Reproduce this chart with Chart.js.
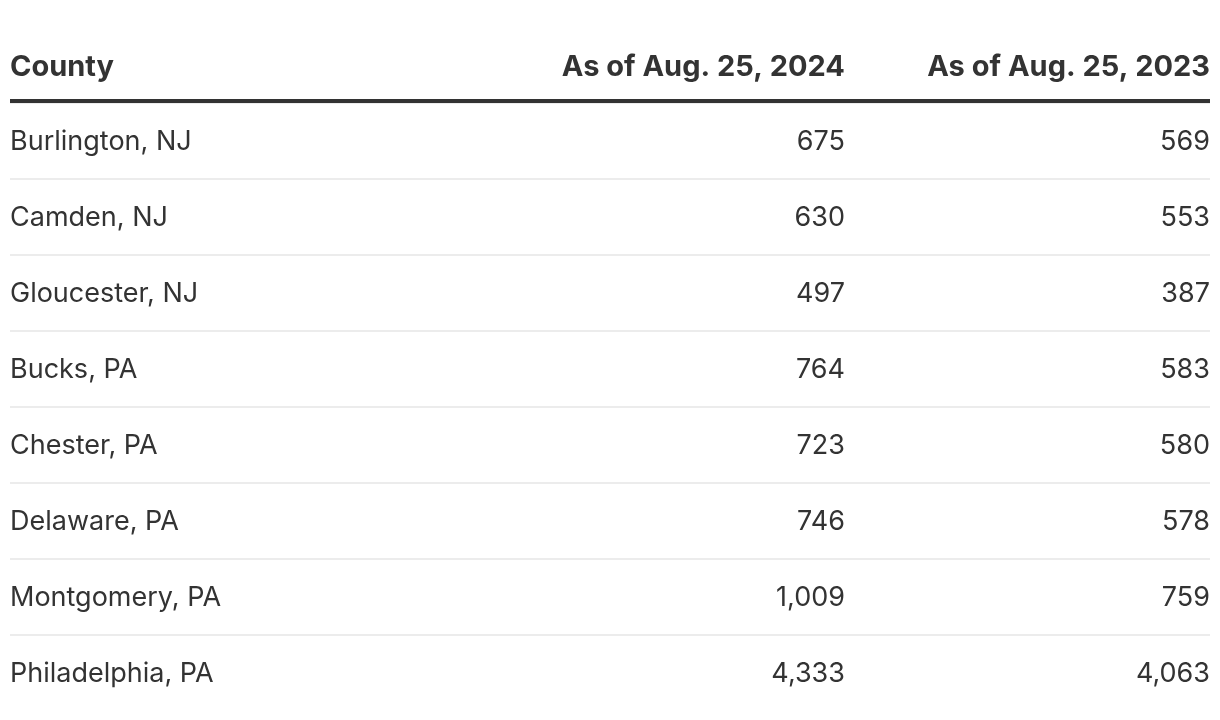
<!DOCTYPE html>
<html>
<head>
<meta charset="utf-8">
<script src="https://cdn.jsdelivr.net/npm/chart.js@4"></script>
<style>
  html, body { margin: 0; padding: 0; background: #fff; }
  #wrap { width: 1220px; height: 720px; }
</style>
</head>
<body>
<div id="wrap"><canvas id="table"></canvas></div>
<script>
// table contents
const headers = ['County', 'As of Aug. 25, 2024', 'As of Aug. 25, 2023'];
const counties = ['Burlington, NJ', 'Camden, NJ', 'Gloucester, NJ', 'Bucks, PA', 'Chester, PA', 'Delaware, PA', 'Montgomery, PA', 'Philadelphia, PA'];
const values2024 = [675, 630, 497, 764, 723, 746, 1009, 4333];
const values2023 = [569, 553, 387, 583, 580, 578, 759, 4063];

const FONT = 'Inter, Roboto, sans-serif';
const TEXT = '#333333';

// draws header, thick rule and the cell texts on top of the y scale bands
const tablePlugin = {
  id: 'tableCells',
  afterDraw(chart) {
    const { ctx, chartArea, scales } = chart;
    const y = scales.y;
    const left = chartArea.left;
    const right = chartArea.right;
    const col2 = left + (right - left) * 0.6958; // right edge of 2024 column

    ctx.save();
    // header
    ctx.fillStyle = TEXT;
    ctx.textBaseline = 'middle';
    ctx.font = 'bold 29px ' + FONT;
    ctx.textAlign = 'left';
    ctx.fillText(headers[0], left, 67);
    ctx.textAlign = 'right';
    ctx.fillText(headers[1], col2, 67);
    ctx.fillText(headers[2], right, 67);

    // thick rule under the header
    ctx.strokeStyle = '#333333';
    ctx.lineWidth = 4;
    ctx.beginPath();
    ctx.moveTo(left, chartArea.top - 2);
    ctx.lineTo(right, chartArea.top - 2);
    ctx.stroke();

    // rows
    ctx.font = '27px ' + FONT;
    counties.forEach((name, i) => {
      const py = y.getPixelForValue(i) + 1;
      ctx.textAlign = 'left';
      ctx.fillText(name, left, py);
      ctx.textAlign = 'right';
      ctx.fillText(values2024[i].toLocaleString('en-US'), col2, py);
      ctx.fillText(values2023[i].toLocaleString('en-US'), right, py);
    });
    ctx.restore();
  }
};

new Chart(document.getElementById('table'), {
  type: 'bar',
  data: {
    labels: counties,
    datasets: [
      { label: headers[1], data: values2024, backgroundColor: 'transparent' },
      { label: headers[2], data: values2023, backgroundColor: 'transparent' }
    ]
  },
  options: {
    indexAxis: 'y',
    responsive: true,
    maintainAspectRatio: false,
    animation: false,
    layout: { padding: { top: 103, bottom: 9, left: 10, right: 10 } },
    plugins: { legend: { display: false }, tooltip: { enabled: false } },
    scales: {
      x: { display: false, min: 0, max: 5000 },
      y: {
        offset: true,
        ticks: { display: false },
        border: { display: false },
        grid: {
          offset: true,
          drawTicks: false,
          lineWidth: 2,
          color: c => (c.type === 'tick' ? '#ececec' : 'transparent')
        }
      }
    }
  },
  plugins: [tablePlugin]
});
</script>
</body>
</html>
